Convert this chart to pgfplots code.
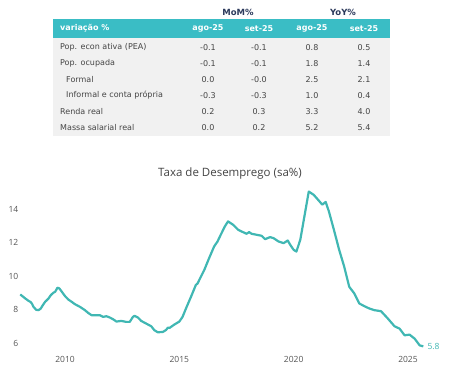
\documentclass[border=0pt]{standalone}
\usepackage{fontspec}
\usepackage{pgfplots}
\pgfplotsset{compat=1.18}
\setmainfont{Open Sans}
\newfontfamily\tabfont{DejaVu Sans}
\definecolor{hdr}{RGB}{58,189,197}
\definecolor{linec}{RGB}{64,183,179}
\definecolor{navy}{RGB}{44,58,92}
\definecolor{tgrey}{RGB}{68,68,68}
\definecolor{bggrey}{RGB}{241,241,241}
\definecolor{tick}{RGB}{85,85,85}
\begin{document}
\begin{tikzpicture}
\begin{scope}[x=1pt,y=1pt]
\path[use as bounding box] (0,0) rectangle (449,368);
% ---- table ----
\fill[bggrey] (53,232) rectangle (390,331);
\fill[hdr] (53,330) rectangle (390,349);
\begin{scope}[every node/.style={inner sep=0pt, font=\tabfont\fontsize{8}{9}\selectfont, text=tgrey}]
\node[font=\tabfont\bfseries\fontsize{8.5}{10}\selectfont, text=navy] at (238,356) {MoM\%};
\node[font=\tabfont\bfseries\fontsize{8.5}{10}\selectfont, text=navy] at (343,356) {YoY\%};
\begin{scope}[every node/.append style={font=\tabfont\bfseries\fontsize{8}{9}\selectfont, text=white}]
\node[anchor=west] at (60,339.5) {variação \%};
\node at (208,339.5) {ago-25};
\node at (259,339.5) {set-25};
\node at (312,339.5) {ago-25};
\node at (364,339.5) {set-25};
\end{scope}
\node[anchor=west] at (60,320.5) {Pop. econ ativa (PEA)};
\node at (208,320.5) {-0.1}; \node at (259,320.5) {-0.1}; \node at (312,320.5) {0.8}; \node at (364,320.5) {0.5};
\node[anchor=west] at (60,304.5) {Pop. ocupada};
\node at (208,304.5) {-0.1}; \node at (259,304.5) {-0.1}; \node at (312,304.5) {1.8}; \node at (364,304.5) {1.4};
\node[anchor=west] at (66,288.5) {Formal};
\node at (208,288.5) {0.0}; \node at (259,288.5) {-0.0}; \node at (312,288.5) {2.5}; \node at (364,288.5) {2.1};
\node[anchor=west] at (66,272.5) {Informal e conta própria};
\node at (208,272.5) {-0.3}; \node at (259,272.5) {-0.3}; \node at (312,272.5) {1.0}; \node at (364,272.5) {0.4};
\node[anchor=west] at (60,256.5) {Renda real};
\node at (208,256.5) {0.2}; \node at (259,256.5) {0.3}; \node at (312,256.5) {3.3}; \node at (364,256.5) {4.0};
\node[anchor=west] at (60,240.5) {Massa salarial real};
\node at (208,240.5) {0.0}; \node at (259,240.5) {0.2}; \node at (312,240.5) {5.2}; \node at (364,240.5) {5.4};
\end{scope}
% ---- chart title ----
\node[font=\fontsize{11.5}{13}\selectfont, text=tgrey] at (230,194) {Taxa de Desemprego (sa\%)};
\end{scope}
% ---- chart ----
\begin{axis}[at={(19.3pt,18.3pt)}, anchor=south west, scale only axis,
  width=418.4pt, height=162.5pt,
  xmin=2008, xmax=2026.3, ymin=5.6, ymax=15.3,
  axis line style={draw=none}, major tick length=0pt,
  xtick={2010,2015,2020,2025}, ytick={6,8,10,12,14},
  /pgf/number format/assume math mode=true,
  xticklabel style={/pgf/number format/1000 sep={}, yshift=-3pt},
  yticklabel style={xshift=2.5pt},
  ticklabel style={font=\fontsize{8.5}{10}\selectfont, text=tick},
  clip=false]
\addplot[linec, line width=2.2pt, line join=round] coordinates {
(2008.04,8.90) (2008.26,8.66) (2008.40,8.52) (2008.48,8.46) (2008.55,8.36) (2008.62,8.16) (2008.74,7.98)
(2008.84,7.96) (2008.94,8.06) (2009.03,8.26) (2009.13,8.46) (2009.28,8.66) (2009.38,8.86)
(2009.49,9.00) (2009.57,9.06) (2009.67,9.30) (2009.75,9.26) (2009.86,9.06) (2010.00,8.80)
(2010.14,8.60) (2010.29,8.46) (2010.43,8.32) (2010.65,8.16) (2010.87,7.96) (2011.01,7.80)
(2011.16,7.66) (2011.38,7.66) (2011.52,7.66) (2011.67,7.56) (2011.81,7.60) (2011.96,7.52)
(2012.10,7.42) (2012.25,7.28) (2012.46,7.32) (2012.68,7.26) (2012.83,7.26) (2012.97,7.56)
(2013.04,7.62) (2013.19,7.52) (2013.33,7.32) (2013.55,7.16) (2013.77,7.00) (2013.91,6.76)
(2014.06,6.64) (2014.28,6.66) (2014.42,6.78) (2014.50,6.92) (2014.57,6.90) (2014.78,7.10) (2015.00,7.28)
(2015.14,7.56) (2015.29,8.06) (2015.51,8.76) (2015.72,9.46) (2015.80,9.56) (2015.87,9.76) (2016.09,10.36)
(2016.30,11.06) (2016.52,11.76) (2016.67,12.06) (2016.76,12.32) (2016.99,12.96) (2017.13,13.26)
(2017.35,13.06) (2017.57,12.76) (2017.72,12.66) (2017.94,12.52) (2018.05,12.62) (2018.16,12.52)
(2018.38,12.46) (2018.60,12.40) (2018.75,12.20) (2018.97,12.32) (2019.12,12.26) (2019.34,12.06)
(2019.56,11.96) (2019.74,12.12) (2019.85,11.86) (2020.00,11.56) (2020.12,11.46) (2020.29,12.16)
(2020.47,13.56) (2020.66,15.04) (2020.88,14.84) (2021.10,14.50) (2021.25,14.26) (2021.40,14.42)
(2021.54,13.86) (2021.76,12.76) (2021.99,11.56) (2022.21,10.56) (2022.43,9.36) (2022.65,8.96)
(2022.87,8.36) (2023.09,8.20) (2023.31,8.06) (2023.53,7.96) (2023.82,7.90) (2024.12,7.46)
(2024.41,7.00) (2024.63,6.86) (2024.85,6.46) (2025.07,6.50) (2025.29,6.26) (2025.51,5.86)
(2025.67,5.80)
};
\node[anchor=west, text=linec, font=\fontsize{8.5}{10}\selectfont, inner sep=0pt] at (axis cs:2025.67,5.80) {\hspace{4pt}5.8};
\end{axis}
\end{tikzpicture}
\end{document}
